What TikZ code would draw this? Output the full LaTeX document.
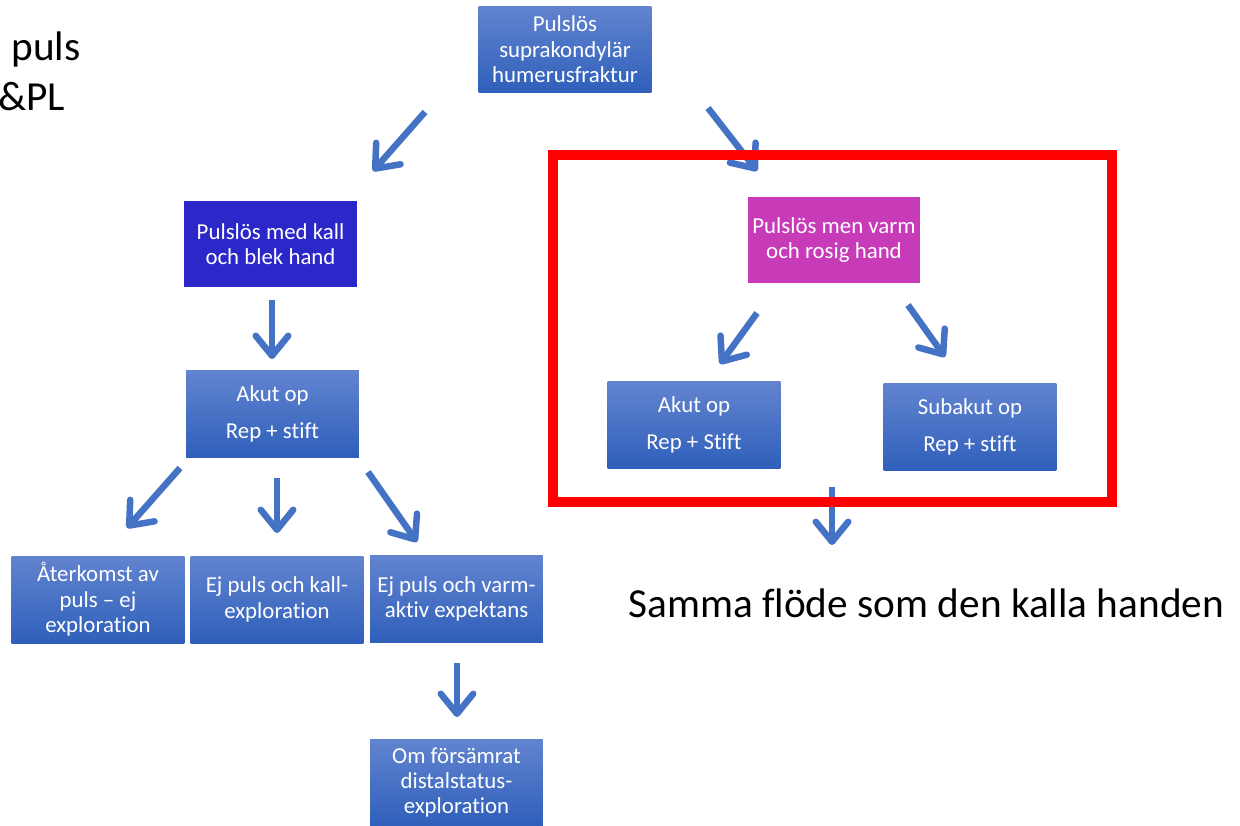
\documentclass[tikz,border=0pt]{standalone}
\usepackage{fontspec}
\setmainfont{Carlito}[Ligatures={TeX,NoCommon}]
\usetikzlibrary{arrows.meta,positioning}
\definecolor{boxtop}{HTML}{6284D0}
\definecolor{boxbot}{HTML}{2F5FBA}
\definecolor{coldblue}{HTML}{2B27C9}
\definecolor{warmpink}{HTML}{C83BB8}
\definecolor{flowblue}{HTML}{4472C4}
\tikzset{
  card/.style={text=white, align=center, minimum width=3.46cm, minimum height=1.74cm, inner sep=0pt, font=\fontsize{13}{14.5}\selectfont},
  box/.style={card, top color=boxtop, bottom color=boxbot},
  coldbox/.style={card, fill=coldblue},
  warmbox/.style={card, fill=warmpink},
  flow/.style={flowblue, line width=3.7pt, -{Straight Barb[length=4mm, width=6.5mm, round]}},
  big/.style={font=\fontsize{23.5}{29}\selectfont, inner sep=0pt}
}

\begin{document}
\begin{tikzpicture}[x=0.02cm, y=-0.02cm]
  \useasboundingbox (0,0) rectangle (1240,825);
  \clip (0,0) rectangle (1240,825);
  % cut-off text at the left edge
  \node[big, anchor=base west] (puls) at (11,60) {puls};
  \node[big, anchor=base west] (pl) at (-2,110) {\&PL};
  % boxes
  \node[box] (top) at (565,49.5) {Pulslös\\suprakondylär\\humerusfraktur};
  \node[coldbox] (cold) at (270.5,244) {Pulslös med kall\\och blek hand};
  \node[box] (acuteL) at (272.5,414) {Akut op\\[6.5pt]Rep + stift};
  \node[box] (back) at (98,599.5) {Återkomst av\\puls – ej\\exploration};
  \node[box] (coldx) at (277,599.5) {Ej puls och kall-\\exploration};
  \node[box] (warmx) at (456.5,599) {Ej puls och varm-\\aktiv expektans};
  \node[box] (worse) at (456.5,782.5) {Om försämrat\\distalstatus-\\exploration};
  \node[warmbox] (warm) at (834,240) {Pulslös men varm\\och rosig hand};
  \node[box] (acuteR) at (694,425) {Akut op\\[6.5pt]Rep + Stift};
  \node[box] (subacute) at (970,426.5) {Subakut op\\[6.5pt]Rep + stift};
  \node[big, anchor=west] (same) at (628,603) {Samma flöde som den kalla handen};
  % free-standing arrows
  \foreach \n/\xa/\ya/\xb/\yb in {a/425/112/373/171, b/708/108/757/171, c/272/300/272/359,
      d/180/468/127/528, e/277/478/277/533, f/368/472/417/542, g/457/663/457/717,
      h/757/313/720/364, i/908/305/945/357, j/832/487/832/545} {
    \coordinate (\n0) at (\xa,\ya);
    \coordinate (\n1) at (\xb,\yb);
    \draw[flow] (\n0) -- (\n1);
  }
  % frame round the warm branch
  \draw[red, line width=5.67pt] (553,155) rectangle (1112,502);
\end{tikzpicture}
\end{document}
